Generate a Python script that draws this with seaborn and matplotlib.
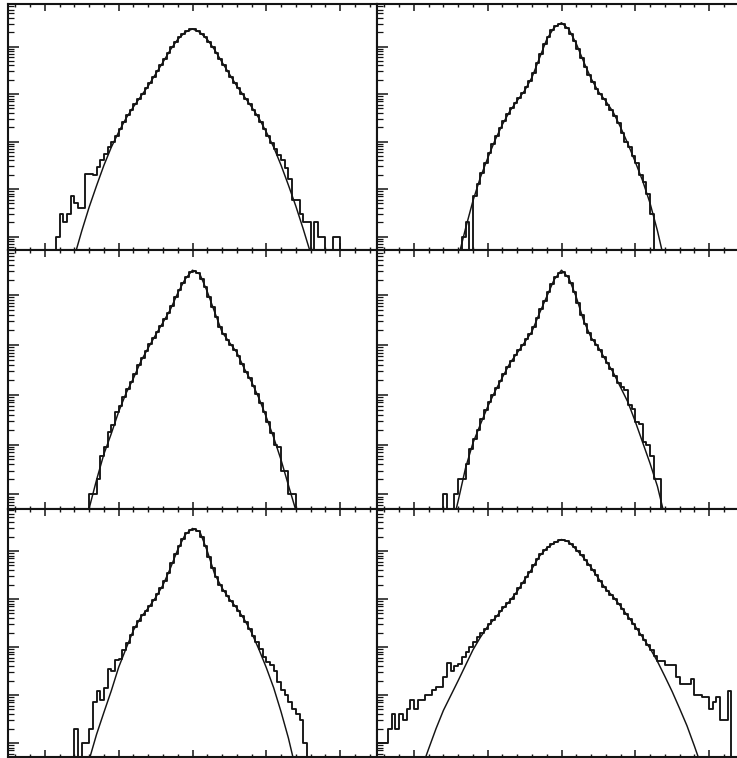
import numpy as np
import pandas as pd
import matplotlib
matplotlib.use("Agg")
import matplotlib.pyplot as plt
import seaborn as sns
from matplotlib.ticker import LogLocator, MultipleLocator, NullFormatter

sns.set_style("ticks")

# histogram binning: 100 bins of width 0.05 over [-2.5, 2.5]
bin_range = (-2.5, 2.5)
bin_width = 0.05
bin_centers = np.arange(100) * bin_width + bin_range[0] + bin_width / 2

# counts per bin, one list per panel (row-major: top-left, top-right, ...)
hist_tl = [
    0, 0, 0, 0, 0, 0, 0, 0, 0, 0,
    0, 0, 0, 1, 3, 2, 3, 7, 5, 4,
    4, 21, 21, 20, 29, 41, 55, 78, 100, 132,
    186, 263, 355, 468, 617, 794, 1020, 1320, 1700, 2290,
    3020, 4070, 5500, 7410, 9550, 12600, 15500, 18200, 20900, 22900,
    22900, 20900, 18200, 15500, 12600, 9550, 7410, 5500, 4070, 3020,
    2290, 1700, 1320, 1020, 794, 617, 468, 355, 263, 186,
    132, 95, 68, 52, 40, 28, 16, 6, 6, 3,
    2, 2, 0, 2, 1, 1, 0, 0, 1, 1,
    0, 0, 0, 0, 0, 0, 0, 0, 0, 0,
]
hist_tr = [
    0, 0, 0, 0, 0, 0, 0, 0, 0, 0,
    0, 0, 0, 0, 0, 0, 0, 0, 0, 0,
    0, 0, 0, 1, 2, 0, 7, 13, 22, 35,
    56, 87, 129, 191, 269, 372, 501, 631, 813, 1050,
    1380, 1900, 2820, 4470, 7080, 11200, 16200, 21900, 26900, 30200,
    29500, 24000, 18600, 12900, 8700, 5600, 3700, 2500, 1800, 1300,
    1000, 780, 600, 470, 340, 240, 150, 100, 78, 50,
    35, 20, 14, 8, 3, 0, 0, 0, 0, 0,
    0, 0, 0, 0, 0, 0, 0, 0, 0, 0,
    0, 0, 0, 0, 0, 0, 0, 0, 0, 0,
]
hist_ml = [
    0, 0, 0, 0, 0, 0, 0, 0, 0, 0,
    0, 0, 0, 0, 0, 0, 0, 0, 0, 0,
    0, 0, 1, 1, 2, 6, 9, 18, 25, 45,
    60, 90, 129, 182, 263, 389, 550, 741, 1020, 1380,
    1820, 2450, 3310, 4470, 6170, 9120, 12900, 17800, 23400, 28800,
    30200, 27500, 21400, 14500, 9330, 5750, 3630, 2290, 1620, 1260,
    1000, 794, 589, 407, 288, 214, 151, 102, 68, 45,
    28, 17, 10, 9, 3, 3, 1, 1, 0, 0,
    0, 0, 0, 0, 0, 0, 0, 0, 0, 0,
    0, 0, 0, 0, 0, 0, 0, 0, 0, 0,
]
hist_mr = [
    0, 0, 0, 0, 0, 0, 0, 0, 0, 0,
    0, 0, 0, 0, 0, 0, 0, 0, 1, 0,
    0, 1, 2, 2, 4, 8, 13, 20, 33, 50,
    72, 98, 138, 191, 263, 363, 479, 617, 776, 1000,
    1290, 1660, 2290, 3470, 5250, 7760, 11500, 17000, 22900, 28200,
    28800, 24000, 17800, 11500, 6920, 4070, 2570, 1740, 1260, 1000,
    776, 575, 427, 324, 240, 170, 140, 125, 62, 52,
    28, 26, 11, 10, 6, 2, 2, 0, 0, 0,
    0, 0, 0, 0, 0, 0, 0, 0, 0, 0,
    0, 0, 0, 0, 0, 0, 0, 0, 0, 0,
]
hist_bl = [
    0, 0, 0, 0, 0, 0, 0, 0, 0, 0,
    0, 0, 0, 0, 0, 0, 0, 0, 2, 0,
    1, 1, 2, 7, 12, 8, 14, 34, 31, 54,
    57, 87, 120, 182, 263, 355, 468, 575, 724, 933,
    1260, 1700, 2400, 3550, 5500, 8510, 12900, 18200, 23400, 27500,
    28200, 26300, 20000, 12600, 7590, 4370, 2820, 2000, 1480, 1150,
    891, 724, 562, 437, 330, 240, 170, 130, 93, 63,
    49, 43, 31, 19, 13, 10, 7, 5, 4, 3,
    1, 0, 0, 0, 0, 0, 0, 0, 0, 0,
    0, 0, 0, 0, 0, 0, 0, 0, 0, 0,
]
hist_br = [
    1, 1, 1, 2, 4, 2, 4, 3, 5, 8,
    5, 8, 8, 10, 10, 13, 15, 15, 24, 47,
    31, 40, 45, 63, 80, 100, 130, 160, 195, 240,
    295, 363, 447, 550, 676, 832, 1020, 1290, 1660, 2190,
    2880, 3720, 5010, 6760, 8510, 10500, 12300, 13800, 15500, 16600,
    17000, 15800, 14100, 12000, 9770, 8130, 6460, 5130, 3980, 3090,
    2340, 1820, 1480, 1230, 1000, 794, 631, 490, 389, 302,
    234, 182, 140, 110, 85, 65, 51, 51, 43, 43,
    43, 24, 17, 17, 17, 22, 10, 10, 9, 9,
    5, 7, 9, 3, 3, 12, 0, 0, 0, 0,
]

# fitted curves, sampled on a common abscissa, values in decades (log10 counts)
fit_x = [-1.9, -1.8, -1.7, -1.6, -1.5, -1.4, -1.3, -1.2, -1.1, -1.0,
         -0.9, -0.8, -0.7, -0.6, -0.5, -0.4, -0.3, -0.2, -0.1, 0.0,
         0.1, 0.2, 0.3, 0.4, 0.5, 0.6, 0.7, 0.8, 0.9, 1.0,
         1.1, 1.2, 1.3, 1.4, 1.5, 1.6, 1.7, 1.8, 1.9]
fit_tl = [-2.4, -1.6, -1.0, -0.42, 0.12, 0.62, 1.07, 1.50, 1.88, 2.20,
          2.49, 2.73, 2.95, 3.17, 3.42, 3.67, 3.93, 4.15, 4.30, 4.37,
          4.30, 4.15, 3.93, 3.67, 3.42, 3.17, 2.95, 2.73, 2.49, 2.20,
          1.88, 1.50, 1.08, 0.64, 0.16, -0.35, -0.9, -1.5, -2.2]
fit_tr = [-3.5, -2.8, -2.1, -1.6, -1.05, -0.45, 0.17, 0.75, 1.24, 1.65,
          2.03, 2.36, 2.64, 2.86, 3.07, 3.35, 3.75, 4.15, 4.40, 4.50,
          4.36, 4.06, 3.68, 3.33, 3.05, 2.85, 2.62, 2.30, 1.95, 1.57,
          1.17, 0.70, 0.12, -0.55, -1.2, -1.9, -2.6, -3.3, -4.0]
fit_ml = [-3.6, -2.9, -2.2, -1.5, -0.88, -0.28, 0.29, 0.81, 1.22, 1.66,
          2.03, 2.33, 2.67, 2.94, 3.20, 3.45, 3.71, 4.04, 4.32, 4.50,
          4.42, 4.07, 3.66, 3.26, 3.05, 2.85, 2.53, 2.26, 1.93, 1.55,
          1.14, 0.69, 0.18, -0.32, -0.9, -1.5, -2.2, -2.9, -3.6]
fit_mr = [-3.3, -2.6, -1.9, -1.3, -0.75, -0.13, 0.53, 1.03, 1.40, 1.76,
          2.07, 2.35, 2.63, 2.84, 3.05, 3.27, 3.63, 3.97, 4.31, 4.50,
          4.34, 3.96, 3.49, 3.15, 2.95, 2.69, 2.45, 2.15, 1.85, 1.46,
          1.04, 0.62, 0.16, -0.45, -1.1, -1.8, -2.5, -3.2, -3.9]
fit_bl = [-3.5, -2.8, -2.1, -1.5, -0.9, -0.35, 0.18, 0.64, 1.09, 1.58,
          1.97, 2.35, 2.62, 2.81, 3.03, 3.29, 3.64, 4.03, 4.34, 4.47,
          4.40, 4.00, 3.52, 3.23, 3.00, 2.81, 2.58, 2.30, 1.95, 1.57,
          1.15, 0.65, 0.10, -0.55, -1.2, -1.9, -2.6, -3.3, -4.0]
fit_br = [-0.55, -0.12, 0.30, 0.68, 0.99, 1.30, 1.62, 1.94, 2.20, 2.43,
          2.60, 2.79, 2.96, 3.16, 3.40, 3.63, 3.89, 4.06, 4.17, 4.24,
          4.19, 4.03, 3.86, 3.66, 3.43, 3.21, 3.05, 2.85, 2.64, 2.43,
          2.20, 1.97, 1.70, 1.39, 1.07, 0.72, 0.36, -0.06, -0.50]

panels = [
    (0, 0, hist_tl, fit_tl), (0, 1, hist_tr, fit_tr),
    (1, 0, hist_ml, fit_ml), (1, 1, hist_mr, fit_mr),
    (2, 0, hist_bl, fit_bl), (2, 1, hist_br, fit_br),
]

# frame geometry in pixels
W, H = 737, 758
col_px = [(8, 377), (377, 746)]
# (top, bottom, pixel row of one count, pixels per decade)
row_px = [(4, 250, 236.5, 47.5), (250, 509, 494.3, 49.8), (509, 757, 743.0, 48.0)]

ink = "#141414"

fig = plt.figure(figsize=(W / 100, H / 100), dpi=100)
fig.patch.set_facecolor("white")

for r, c, counts, fit in panels:
    x0, x1 = col_px[c]
    y0, y1, y_one, dec = row_px[r]
    ax = fig.add_axes([x0 / W, 1 - y1 / H, (x1 - x0) / W, (y1 - y0) / H])
    ax.set_yscale("log")

    hist_df = pd.DataFrame({"x": bin_centers, "n": np.asarray(counts, dtype=float)})
    sns.histplot(data=hist_df, x="x", weights="n", binwidth=bin_width,
                 binrange=bin_range, element="step", fill=False,
                 color=ink, linewidth=1.35, ax=ax)
    fit_df = pd.DataFrame({"x": fit_x, "y": np.power(10.0, fit)})
    sns.lineplot(data=fit_df, x="x", y="y", color=ink, linewidth=1.05, ax=ax)

    ax.set_xlim(-2.5, 2.5)
    ax.set_ylim(10 ** (-(y1 - y_one) / dec), 10 ** ((y_one - y0) / dec))
    ax.set_xlabel("")
    ax.set_ylabel("")

    ax.xaxis.set_major_locator(MultipleLocator(1.0))
    ax.xaxis.set_minor_locator(MultipleLocator(0.2))
    ax.yaxis.set_major_locator(LogLocator(base=10, numticks=20))
    ax.yaxis.set_minor_locator(LogLocator(base=10, subs=np.arange(2, 10), numticks=20))
    for axis in (ax.xaxis, ax.yaxis):
        axis.set_major_formatter(NullFormatter())
        axis.set_minor_formatter(NullFormatter())

    ax.tick_params(axis="x", which="both", direction="in", top=True, bottom=True,
                   labelbottom=False, color=ink)
    ax.tick_params(axis="x", which="major", length=5, width=1.1)
    ax.tick_params(axis="x", which="minor", length=2.5, width=1.0)
    ax.tick_params(axis="y", which="both", direction="in", left=True, right=False,
                   labelleft=False, color=ink)
    ax.tick_params(axis="y", which="major", length=8, width=1.1)
    ax.tick_params(axis="y", which="minor", length=4, width=0.9)
    for s in ax.spines.values():
        s.set_visible(True)
        s.set_linewidth(1.5)
        s.set_color(ink)

fig.savefig("out.png", dpi=100, facecolor="white")
